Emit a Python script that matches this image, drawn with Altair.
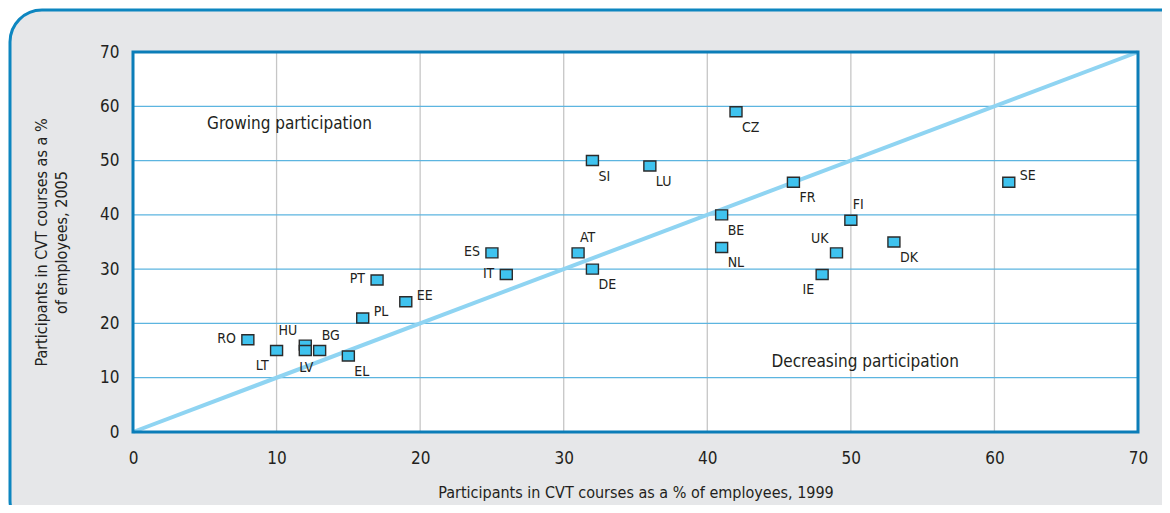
import altair as alt
import pandas as pd

# ---- data ----
countries = ["RO", "LT", "HU", "LV", "BG", "EL", "PL", "PT", "EE", "ES", "IT", "AT",
             "DE", "SI", "LU", "CZ", "BE", "NL", "FR", "FI", "UK", "IE", "DK", "SE"]
pct_1999 = [8, 10, 12, 12, 13, 15, 16, 17, 19, 25, 26, 31,
            32, 32, 36, 42, 41, 41, 46, 50, 49, 48, 53, 61]
pct_2005 = [17, 15, 16, 15, 15, 14, 21, 28, 24, 33, 29, 33,
            30, 50, 49, 59, 40, 34, 46, 39, 33, 29, 35, 46]
label_side = ["l", "bl", "tl", "b", "tr", "br", "r", "l", "r", "l", "l", "tr",
              "br", "br", "br", "br", "br", "br", "br", "tr", "tl", "bl", "br", "r"]
axis_ticks = [0, 10, 20, 30, 40, 50, 60, 70]
annot_text = ["Growing participation", "Decreasing participation"]
annot_x = [10.9, 51.0]
annot_y = [56.7, 12.9]

# ---- styling ----
FONT = "DejaVu Sans Condensed, Liberation Sans Narrow, Roboto, sans-serif"
TXT = "#231f20"
W, H = 1005, 380
side_style = {
    "br": ("left", 6, 16),
    "r": ("left", 11, -6),
    "tr": ("left", 2, -15),
    "l": ("right", -12, -1),
    "tl": ("right", -8, -14),
    "bl": ("right", -8, 15),
    "b": ("center", 1, 17),
}

df = pd.DataFrame({"country": countries, "x": pct_1999, "y": pct_2005, "pos": label_side})
ticks_df = pd.DataFrame({"x": axis_ticks, "y": axis_ticks})
diag_df = pd.DataFrame({"x": [axis_ticks[0], axis_ticks[-1]], "y": [axis_ticks[0], axis_ticks[-1]]})
annot_df = pd.DataFrame({"t": annot_text, "x": annot_x, "y": annot_y})
one = pd.DataFrame({"k": [0]})

xs = alt.Scale(domain=[0, 70], nice=False, zero=False)
ys = alt.Scale(domain=[0, 70], nice=False, zero=False)

x_axis = alt.Axis(values=axis_ticks, grid=False, domain=False, ticks=False, zindex=2,
                  labelFlush=False,
                  labelFontSize=17, labelPadding=18, labelColor=TXT, labelFont=FONT,
                  title="Participants in CVT courses as a % of employees, 1999",
                  titleFontSize=16, titleFont=FONT, titleFontWeight="normal",
                  titleColor=TXT, titlePadding=18)
y_axis = alt.Axis(values=axis_ticks, grid=False, domain=False, ticks=False, zindex=2,
                  labelFlush=False,
                  labelFontSize=17, labelPadding=14, labelColor=TXT, labelFont=FONT,
                  title=["Participants in CVT courses as a %", "of employees, 2005"],
                  titleFontSize=16, titleFont=FONT, titleFontWeight="normal",
                  titleColor=TXT, titlePadding=30, titleLineHeight=20)


def X():
    return alt.X("x:Q", scale=xs, axis=x_axis)


def Y():
    return alt.Y("y:Q", scale=ys, axis=y_axis)


panel = alt.Chart(one).mark_rect(
    fill="#e6e7e9", stroke="#0d86c0", strokeWidth=3, cornerRadius=32
).encode(x=alt.value(-123), x2=alt.value(1060), y=alt.value(-42), y2=alt.value(480))

plot_bg = alt.Chart(one).mark_rect(fill="white").encode(
    x=alt.value(0), x2=alt.value(W), y=alt.value(0), y2=alt.value(H))

vgrid = alt.Chart(ticks_df).mark_rule(color="#c6c6c6", strokeWidth=1.3).encode(x=X())
hgrid = alt.Chart(ticks_df).mark_rule(color="#5db5e0", strokeWidth=1.3).encode(y=Y())

diag = alt.Chart(diag_df).mark_line(color="#8fd4f2", strokeWidth=4).encode(x=X(), y=Y())

points = alt.Chart(df).mark_point(
    shape="M-1.2,-1L1.2,-1L1.2,1L-1.2,1Z", size=100, filled=True,
    fill="#3fc3ef", stroke="#2b2b2b", strokeWidth=1.4, opacity=1
).encode(x=X(), y=Y())

label_layers = []
for code, (al, dx, dy) in side_style.items():
    label_layers.append(
        alt.Chart(df).transform_filter(alt.datum.pos == code).mark_text(
            align=al, baseline="middle", dx=dx, dy=dy, fontSize=14, font=FONT, color=TXT
        ).encode(x=X(), y=Y(), text="country:N")
    )

annots = alt.Chart(annot_df).mark_text(
    align="center", baseline="middle", fontSize=17, font=FONT, color=TXT
).encode(x=X(), y=Y(), text="t:N")

frame = alt.Chart(one).mark_rect(fill=None, stroke="#0b7db8", strokeWidth=3).encode(
    x=alt.value(0), x2=alt.value(W), y=alt.value(0), y2=alt.value(H))

chart = alt.layer(
    panel, plot_bg, vgrid, hgrid, diag, points, *label_layers, annots, frame
).properties(
    width=W, height=H,
    autosize=alt.AutoSizeParams(type="none"),
    padding={"left": 125, "top": 44, "right": 24, "bottom": 73},
).configure_view(stroke=None)

chart.save("out.html", embed_options={"renderer": "svg", "actions": False})
